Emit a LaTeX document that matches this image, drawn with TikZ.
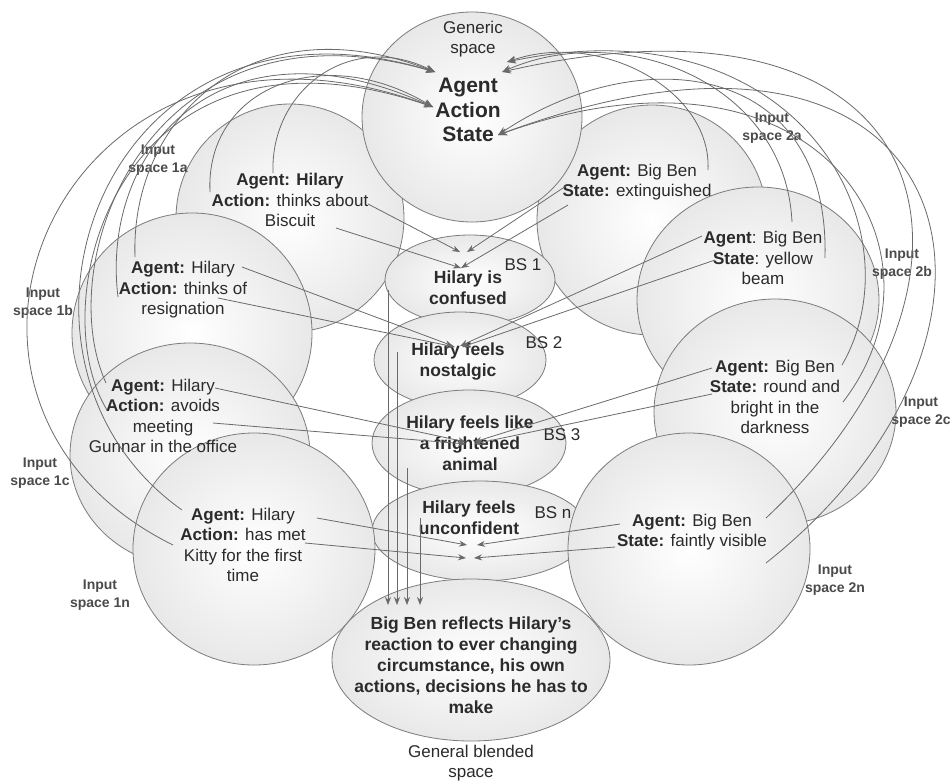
\documentclass[tikz,border=0pt]{standalone}
\usepackage{fontspec}
\setmainfont{Liberation Sans}
\usetikzlibrary{shapes.geometric,arrows.meta}
\definecolor{rim}{HTML}{7C7C7C}
\definecolor{wire}{HTML}{6A6A6A}
\definecolor{ink}{HTML}{2B2B2B}
\tikzset{
 space/.style={ellipse, draw=rim, line width=0.8pt, inner color=white, outer color=black!9, inner sep=0pt, outer sep=0pt},
 body/.style={align=center, text=ink, font=\fontsize{17}{20.5}\selectfont, inner sep=0pt},
 blend/.style={body, font=\bfseries\fontsize{17.5}{21}\selectfont},
 gen/.style={body, font=\bfseries\fontsize{21}{24.5}\selectfont},
 tag/.style={align=center, text=ink!85, font=\bfseries\fontsize{14}{17.5}\selectfont, inner sep=0pt},
 link/.style={draw=wire, line width=0.8pt, -{Stealth[length=8pt,width=6pt]}},
 arc/.style={draw=wire, line width=0.8pt, -{Stealth[length=9pt,width=7pt]}},
}
\begin{document}
\begin{tikzpicture}[x=1pt,y=-1pt]
\useasboundingbox (0,0) rectangle (952,782);
\fill[white] (0,0) rectangle (952,782);
% ---- spaces ----
\node[space, minimum width=230pt, minimum height=230pt] (c2a) at (652,220) {};
\node[space, minimum width=242pt, minimum height=226pt] (c2b) at (758,300) {};
\node[space, minimum width=242pt, minimum height=226pt] (c2c) at (775,412) {};
\node[space, minimum width=228pt, minimum height=228pt] (c1a) at (290,218) {};
\node[space, minimum width=240pt, minimum height=240pt] (c1b) at (192,333) {};
\node[space, minimum width=240pt, minimum height=224pt] (c1c) at (190,455) {};
\node[space, minimum width=220pt, minimum height=210pt] (gen) at (472,117) {};
\node[space, minimum width=170pt, minimum height=90pt] (bs1) at (470,280) {};
\node[space, minimum width=172pt, minimum height=96pt] (bs2) at (460,360) {};
\node[space, minimum width=194pt, minimum height=106pt] (bs3) at (469,443) {};
\node[space, minimum width=216pt, minimum height=100pt] (bsn) at (480,531) {};
\node[space, minimum width=242pt, minimum height=232pt] (c1n) at (254,549) {};
\node[space, minimum width=242pt, minimum height=232pt] (c2n) at (689,549) {};
\node[space, minimum width=278pt, minimum height=162pt] (gbs) at (471,660) {};
% ---- texts ----
\node[body] (gent) at (473,39) {Generic\\space};
\node[gen] (gtx) at (468,110) {Agent\\Action\\State};
\node[body] (t1a) at (290,200) {\textbf{Agent: Hilary}\\\textbf{Action:} thinks about\\Biscuit};
\node[body] (t1b) at (183,290) {\textbf{Agent:} Hilary\\\textbf{Action:} thinks of\\resignation};
\node[body] (t1c) at (163,416) {\textbf{Agent:} Hilary\\\textbf{Action:} avoids\\meeting\\Gunnar in the office};
\node[body] (t1n) at (243,545) {\textbf{Agent:} Hilary\\\textbf{Action:} has met\\Kitty for the first\\time};
\node[body] (t2a) at (637,182) {\textbf{Agent:} Big Ben\\\textbf{State:} extinguished};
\node[body] (t2b) at (763,258) {\textbf{Agent}: Big Ben\\\textbf{State}: yellow\\beam};
\node[body] (t2c) at (775,397) {\textbf{Agent:} Big Ben\\\textbf{State:} round and\\bright in the\\darkness};
\node[body] (t2n) at (692,532) {\textbf{Agent:} Big Ben\\\textbf{State:} faintly visible};
\node[blend] (tb1) at (468,288) {Hilary is\\confused};
\node[blend] (tb2) at (458,362) {Hilary feels\\nostalgic};
\node[blend] (tb3) at (470,443) {Hilary feels like\\a frightened\\animal};
\node[blend] (tbn) at (469,518) {Hilary feels\\unconfident};
\node[blend] (tgb) at (471,665) {Big Ben reflects Hilary's\\reaction to ever changing\\circumstance, his own\\actions, decisions he has to\\make};
\node[body] (lb1) at (523,265) {BS 1};
\node[body] (lb2) at (544,343) {BS 2};
\node[body] (lb3) at (562,435) {BS 3};
\node[body] (lbn) at (553,513) {BS n};
\node[body] (lgb) at (471,763) {General blended\\space};
\node[tag] (i1a) at (158,160) {Input\\space 1a};
\node[tag] (i1b) at (43,303) {Input\\space 1b};
\node[tag] (i1c) at (40,473) {Input\\space 1c};
\node[tag] (i1n) at (100,595) {Input\\space 1n};
\node[tag] (i2a) at (772,128) {Input\\space 2a};
\node[tag] (i2b) at (902,264) {Input\\space 2b};
\node[tag] (i2c) at (921,412) {Input\\space 2c};
\node[tag] (i2n) at (835,580) {Input\\space 2n};
% ---- straight links ----
\coordinate (a1) at (368,204); \coordinate (a2) at (336,228);
\coordinate (b1) at (566,186); \coordinate (b2) at (568,205);
\coordinate (p1) at (460,252); \coordinate (p2) at (467,252); \coordinate (p3) at (461,268);
\draw[link] (a1) -- (p1); \draw[link] (a2) -- (p3);
\draw[link] (b1) -- (p2); \draw[link] (b2) -- (p3);
\coordinate (a3) at (242,267); \coordinate (a4) at (218,298);
\coordinate (b3) at (702,236); \coordinate (b4) at (715,260);
\coordinate (q1) at (453,346); \coordinate (q2) at (455,347); \coordinate (q3) at (460,346); \coordinate (q4) at (462,347);
\draw[link] (a3) -- (q1); \draw[link] (a4) -- (q2);
\draw[link] (b3) -- (q3); \draw[link] (b4) -- (q4);
\coordinate (a5) at (215,388); \coordinate (a6) at (213,423);
\coordinate (b5) at (712,368); \coordinate (b6) at (712,394);
\coordinate (r1) at (466,442); \coordinate (r2) at (466,444); \coordinate (r3) at (474,442); \coordinate (r4) at (474,444);
\draw[link] (a5) -- (r1); \draw[link] (a6) -- (r2);
\draw[link] (b5) -- (r3); \draw[link] (b6) -- (r4);
\coordinate (a7) at (317,518); \coordinate (a8) at (305,543);
\coordinate (b7) at (620,524); \coordinate (b8) at (615,547);
\coordinate (s1) at (467,545); \coordinate (s2) at (466,558); \coordinate (s3) at (477,545); \coordinate (s4) at (474,558);
\draw[link] (a7) -- (s1); \draw[link] (a8) -- (s2);
\draw[link] (b7) -- (s3); \draw[link] (b8) -- (s4);
% ---- vertical links to blended space ----
\coordinate (v1) at (388,290); \coordinate (w1) at (388,605);
\coordinate (v2) at (397,352); \coordinate (w2) at (397,605);
\coordinate (v3) at (407,468); \coordinate (w3) at (407,605);
\coordinate (v4) at (420,518); \coordinate (w4) at (420,605);
\draw[link] (v1) -- (w1); \draw[link] (v2) -- (w2);
\draw[link] (v3) -- (w3); \draw[link] (v4) -- (w4);
% ---- arcs to generic space ----
\coordinate (TA) at (435,72); \coordinate (TB) at (433,107);
\coordinate (RA) at (507,62); \coordinate (RB) at (502,72); \coordinate (RS) at (498,135);
\coordinate (l1) at (273,173); \coordinate (l2) at (210,192);
\coordinate (l3) at (135,257); \coordinate (l4) at (118,297);
\coordinate (l5) at (106,383); \coordinate (l6) at (107,410);
\coordinate (l7) at (182,510); \coordinate (l8) at (173,545);
\draw[arc] (l1) .. controls (270,90) and (350,30) .. (TA);
\draw[arc] (l2) .. controls (205,90) and (320,40) .. (TB);
\draw[arc] (l3) .. controls (130,120) and (250,0) .. (TA);
\draw[arc] (l4) .. controls (100,150) and (220,10) .. (TB);
\draw[arc] (l5) .. controls (50,260) and (150,-10) .. (TA);
\draw[arc] (l6) .. controls (40,300) and (120,0) .. (TB);
\draw[arc] (l7) .. controls (-30,360) and (100,-30) .. (TA);
\draw[arc] (l8) .. controls (-120,400) and (60,-30) .. (TB);
\coordinate (m1) at (708,170);
\coordinate (m2) at (792,222); \coordinate (m3) at (825,258);
\coordinate (m4) at (842,365); \coordinate (m5) at (843,402);
\coordinate (m6) at (766,518); \coordinate (m7) at (766,563);
\draw[arc] (m1) .. controls (712,90) and (600,30) .. (RA);
\draw[arc] (m2) .. controls (785,80) and (620,20) .. (RB);
\draw[arc] (m3) .. controls (830,60) and (640,40) .. (RS);
\draw[arc] (m4) .. controls (920,230) and (800,0) .. (RA);
\draw[arc] (m5) .. controls (960,250) and (820,20) .. (RS);
\draw[arc] (m6) .. controls (1020,280) and (950,-30) .. (RB);
\draw[arc] (m7) .. controls (1060,330) and (970,-40) .. (RS);
\end{tikzpicture}
\end{document}
